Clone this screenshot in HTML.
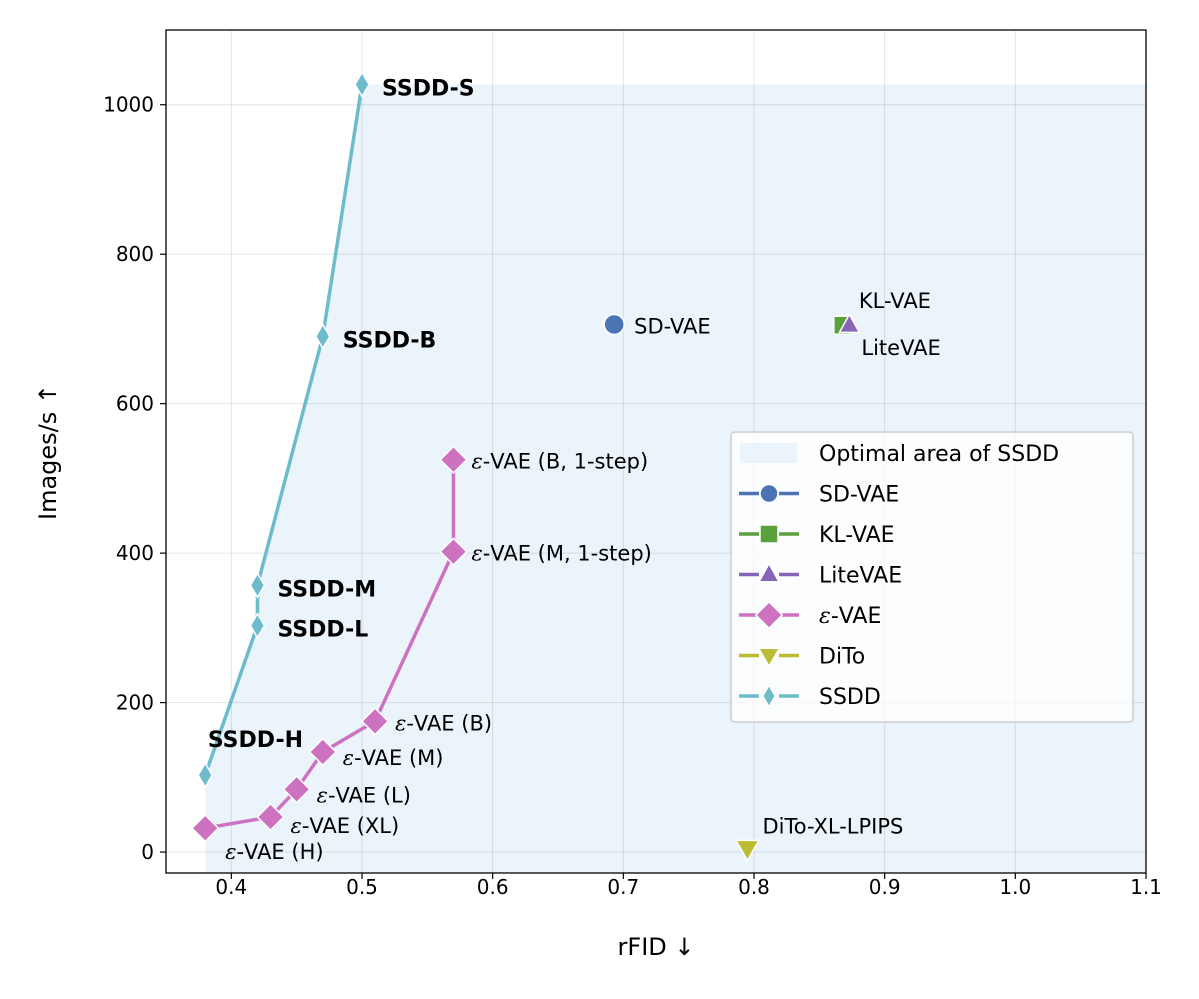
<!DOCTYPE html>
<html><head><meta charset="utf-8"><style>
body{margin:0;background:#fff;}
svg{display:block;font-family:"DejaVu Sans","Liberation Sans",sans-serif;}
</style></head><body>
<svg id="chart" width="1199" height="999" viewBox="0 0 1199 999"></svg>
<script>
const xTicks=[0.4,0.5,0.6,0.7,0.8,0.9,1.0,1.1];
const xTickLabels=["0.4","0.5","0.6","0.7","0.8","0.9","1.0","1.1"];
const yTicks=[0,200,400,600,800,1000];
const ssddX=[0.38,0.42,0.42,0.47,0.5];
const ssddY=[103,303,357,690,1027];
const ssddLabels=["SSDD-H","SSDD-L","SSDD-M","SSDD-B","SSDD-S"];
const evaeX=[0.38,0.43,0.45,0.47,0.51,0.57,0.57];
const evaeY=[32,47,84,134,175,402,525];
const evaeLabels=["-VAE (H)","-VAE (XL)","-VAE (L)","-VAE (M)","-VAE (B)","-VAE (M, 1-step)","-VAE (B, 1-step)"];
const sdvae=[0.693,706];
const klvae=[0.868,705];
const litevae=[0.873,705];
const dito=[0.795,5];

const L=166,R=1146,T=30,B=873,xmin=0.35,xmax=1.1,ymin=-28,ymax=1100;
const sx=v=>L+(v-xmin)/(xmax-xmin)*(R-L);
const sy=v=>B-(v-ymin)/(ymax-ymin)*(B-T);
const svg=document.getElementById('chart');
const NS='http://www.w3.org/2000/svg';
function el(tag,attrs,parent){const e=document.createElementNS(NS,tag);for(const k in attrs)e.setAttribute(k,attrs[k]);(parent||svg).appendChild(e);return e;}
function txt(x,y,s,attrs){const t=el('text',Object.assign({x:x,y:y},attrs||{}));t.textContent=s;return t;}
function epsTxt(x,y,s,attrs,parent){const t=el('text',Object.assign({x:x,y:y},attrs||{}),parent);const a=el('tspan',{'font-style':'italic','font-family':'"DejaVu Serif","Liberation Serif",serif'},t);a.textContent='ε';const b=el('tspan',{},t);b.textContent=s;return t;}

let pts=[[sx(ssddX[0]),sy(ymin)]];
for(let i=0;i<ssddX.length;i++)pts.push([sx(ssddX[i]),sy(ssddY[i])]);
pts.push([sx(xmax),sy(ssddY[4])]);pts.push([sx(xmax),sy(ymin)]);
const area=el('polygon',{points:pts.map(p=>p.join(',')).join(' '),fill:'#ebf3fb'});



xTicks.forEach((v,i)=>{
  const g=el('line',{x1:sx(v),x2:sx(v),y1:T,y2:B,stroke:'#000','stroke-opacity':0.1,'stroke-width':1});
  
  
  el('line',{x1:sx(v),x2:sx(v),y1:B,y2:B+6,stroke:'#000','stroke-width':1.2});
  const t=txt(sx(v),B+21,xTickLabels[i],{'text-anchor':'middle','font-size':20});
  
  
});
yTicks.forEach(v=>{
  const g=el('line',{x1:L,x2:R,y1:sy(v),y2:sy(v),stroke:'#000','stroke-opacity':0.1,'stroke-width':1});
  
  
  el('line',{x1:L-6,x2:L,y1:sy(v),y2:sy(v),stroke:'#000','stroke-width':1.2});
  const t=txt(L-12,sy(v)+7,String(v),{'text-anchor':'end','font-size':20});
  
  
});

function marker(type,x,y,color,s){
  let m;
  if(type==='circle')m=el('circle',{cx:x,cy:y,r:s});
  else if(type==='square')m=el('rect',{x:x-s,y:y-s,width:2*s,height:2*s});
  else if(type==='tri')m=el('polygon',{points:`${x},${y-s*1.2} ${x-s*1.1},${y+s*0.8} ${x+s*1.1},${y+s*0.8}`});
  else if(type==='tridown')m=el('polygon',{points:`${x},${y+s*1.2} ${x-s*1.15},${y-s*0.8} ${x+s*1.15},${y-s*0.8}`});
  else if(type==='diamond')m=el('polygon',{points:`${x},${y-s*1.2} ${x+s*1.2},${y} ${x},${y+s*1.2} ${x-s*1.2},${y}`});
  else if(type==='thin')m=el('polygon',{points:`${x},${y-s*1.2} ${x+s*0.7},${y} ${x},${y+s*1.2} ${x-s*0.7},${y}`});
  m.setAttribute('fill',color);m.setAttribute('stroke','#fff');m.setAttribute('stroke-width',1.5);
  return m;
}
const C={sd:'#4a74b4',kl:'#5aa03c',lite:'#8665b9',ev:'#cc72c0',dito:'#bcbc34',ssdd:'#6cbccc'};

const sl=el('polyline',{points:ssddX.map((v,i)=>sx(v)+','+sy(ssddY[i])).join(' '),fill:'none',stroke:C.ssdd,'stroke-width':3.5});


const el2=el('polyline',{points:evaeX.map((v,i)=>sx(v)+','+sy(evaeY[i])).join(' '),fill:'none',stroke:C.ev,'stroke-width':3.5});



const ssddOff=[[0,0],[20,11],[20,11],[20,11],[20,11]];
ssddX.forEach((v,i)=>{
  const m=marker('thin',sx(v),sy(ssddY[i]),C.ssdd,10);
  
  
  let t;
  if(i===0)t=txt(303,747,ssddLabels[i],{'font-size':22,'font-weight':'bold','text-anchor':'end'});
  else t=txt(sx(v)+ssddOff[i][0],sy(ssddY[i])+ssddOff[i][1],ssddLabels[i],{'font-size':22,'font-weight':'bold'});
  
  
});
const evOff=[[20,31],[20,16],[20,13],[20,13],[20,9],[18,9],[18,9]];
evaeX.forEach((v,i)=>{
  const m=marker('diamond',sx(v),sy(evaeY[i]),C.ev,11);
  
  
  const t=epsTxt(sx(v)+evOff[i][0],sy(evaeY[i])+evOff[i][1],evaeLabels[i],{'font-size':21});
  
  
});
let m=marker('circle',sx(sdvae[0]),sy(sdvae[1]),C.sd,10);


let t=txt(sx(sdvae[0])+20,sy(sdvae[1])+9,'SD-VAE',{'font-size':21});


m=marker('square',sx(klvae[0]),sy(klvae[1]),C.kl,9);


t=txt(sx(klvae[0])+16,sy(klvae[1])-17,'KL-VAE',{'font-size':21});


m=marker('tri',sx(litevae[0]),sy(litevae[1]),C.lite,9);


t=txt(sx(litevae[0])+12,sy(litevae[1])+30,'LiteVAE',{'font-size':21});


m=marker('tridown',sx(dito[0]),sy(dito[1]),C.dito,10);


t=txt(sx(dito[0])+15,sy(dito[1])-15,'DiTo-XL-LPIPS',{'font-size':21});



const fr=el('rect',{x:L,y:T,width:R-L,height:B-T,fill:'none',stroke:'#000','stroke-width':1.3});



t=txt((L+R)/2,955,'rFID ↓',{'text-anchor':'middle','font-size':24});


t=txt(56,452,'Images/s ↑',{'text-anchor':'middle','font-size':24,transform:'rotate(-90 56 452)'});



const lg=el('g',{});


el('rect',{x:731,y:432,width:402,height:290,rx:4,fill:'#fff','fill-opacity':0.8,stroke:'#ccc','stroke-width':1.5},lg);
const legItems=[['Optimal area of SSDD','area',''],['SD-VAE','circle',C.sd],['KL-VAE','square',C.kl],['LiteVAE','tri',C.lite],['-VAE','diamond',C.ev],['DiTo','tridown',C.dito],['SSDD','thin',C.ssdd]];
legItems.forEach((it,i)=>{
  const y=453+i*40.5;
  const g=el('g',{},lg);
  
  
  if(it[1]==='area'){el('rect',{x:740,y:y-10,width:57,height:20,fill:'#ebf3fb'},g);}
  else{
    el('line',{x1:739,x2:759,y1:y,y2:y,stroke:it[2],'stroke-width':3.5},g);
    el('line',{x1:779,x2:799,y1:y,y2:y,stroke:it[2],'stroke-width':3.5},g);
    const mk=marker(it[1],769,y,it[2],it[1]==='diamond'?11:9);
    g.appendChild(mk);
  }
  if(it[1]==='diamond')epsTxt(819,y+8,it[0],{'font-size':22},g);
  else{const tt=txt(819,y+8,it[0],{'font-size':22});g.appendChild(tt);}
});
</script>
</body></html>
